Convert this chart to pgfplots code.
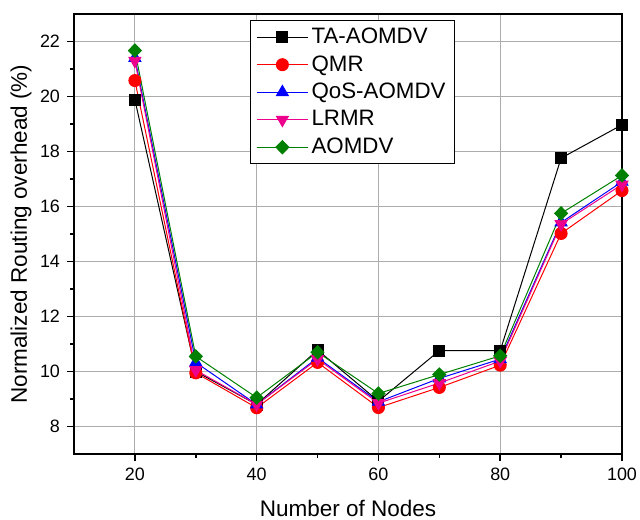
\documentclass[border=0pt]{standalone}
\usepackage{fontspec}
\setmainfont{Liberation Sans}
\usepackage{pgfplots}
\pgfplotsset{compat=1.18}
\definecolor{dgreen}{RGB}{0,128,0}
\begin{document}
\begin{tikzpicture}
\begin{axis}[
  scale only axis, width=274bp, height=220bp,
  xmin=10, xmax=100, ymin=7, ymax=23,
  xtick={20,40,60,80,100}, minor xtick={30,50,70,90},
  ytick={8,10,...,22}, minor ytick={9,11,...,21},
  tick align=outside, xtick pos=bottom, ytick pos=left,
  major tick length=3.5bp, minor tick length=2bp,
  every tick/.style={black, line width=0.8bp},
  axis line style={line width=1bp},
  grid=major, major grid style={gray!65, line width=0.5bp},
  /pgf/number format/assume math mode=true,
  ticklabel style={font=\fontsize{9}{10}\selectfont},
  label style={font=\fontsize{11.3}{13}\selectfont},
  xlabel={Number of Nodes}, ylabel={Normalized Routing overhead (\%)},
  x label style={at={(axis description cs:0.5,-0.1227)}, anchor=center},
  y label style={at={(axis description cs:-0.0967,0.5)}, anchor=center},
  legend style={at={(rel axis cs:0.321,0.986)}, anchor=north west,
    font=\fontsize{11.2}{13}\selectfont, draw=black, line width=0.5bp,
    row sep=1.3bp, nodes={inner sep=1.6bp}},
  legend cell align=left,
  legend image code/.code={\draw[mark repeat=2,mark phase=2] plot coordinates {(0bp,0bp) (12.75bp,0bp) (25.5bp,0bp)};},
  every axis plot/.append style={line width=0.5bp},
]
\addplot[black, mark=square*, mark size=2.75bp, mark options={solid, fill=black}] coordinates {
 (20,19.88)(30,10.0)(40,8.8)(50,10.78)(60,8.92)(70,10.76)(80,10.76)(90,17.76)(100,18.97)};
\addlegendentry{TA-AOMDV}
\addplot[red, mark=*, mark size=3bp, mark options={solid, fill=red}] coordinates {
 (20,20.58)(30,9.95)(40,8.68)(50,10.33)(60,8.69)(70,9.42)(80,10.23)(90,15.02)(100,16.58)};
\addlegendentry{QMR}
\addplot[blue, mark=triangle*, mark size=3.4bp, mark options={solid, fill=blue}] coordinates {
 (20,21.4)(30,10.33)(40,8.8)(50,10.5)(60,8.9)(70,9.75)(80,10.45)(90,15.42)(100,16.9)};
\addlegendentry{QoS-AOMDV}
\addplot[magenta, mark=triangle*, mark size=3.4bp, mark options={solid, fill=magenta, rotate=180}] coordinates {
 (20,21.3)(30,10.05)(40,8.8)(50,10.45)(60,8.85)(70,9.58)(80,10.38)(90,15.36)(100,16.8)};
\addlegendentry{LRMR}
\addplot[dgreen, mark=diamond*, mark size=3.3bp, mark options={solid, fill=dgreen, xscale=1.3}] coordinates {
 (20,21.67)(30,10.55)(40,9.05)(50,10.7)(60,9.2)(70,9.89)(80,10.57)(90,15.75)(100,17.13)};
\addlegendentry{AOMDV}
\coordinate (ll) at (rel axis cs:0,0);
\coordinate (ur) at (rel axis cs:1,1);
\end{axis}
\pgfresetboundingbox
\path ([shift={(-37bp,-32.5bp)}]ll) rectangle ([shift={(9bp,7bp)}]ur);
\end{tikzpicture}
\end{document}
